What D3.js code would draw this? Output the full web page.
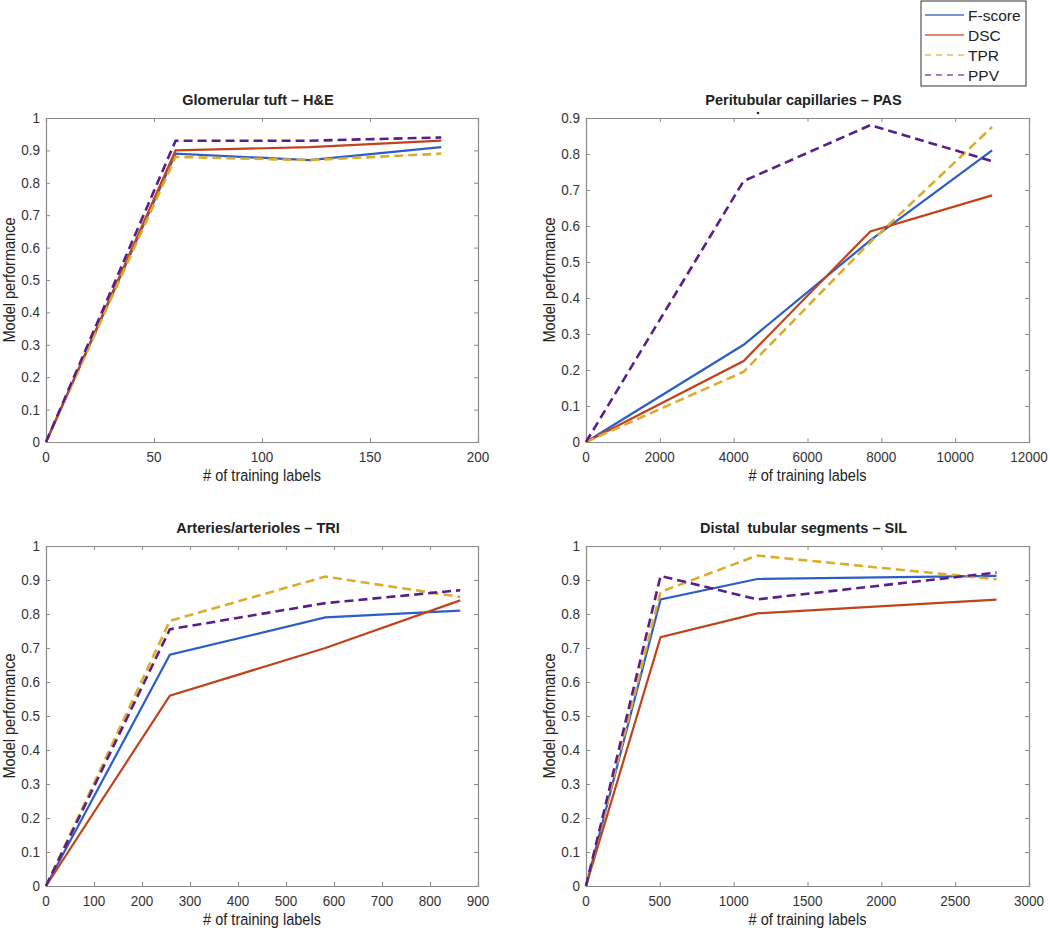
<!DOCTYPE html>
<html><head><meta charset="utf-8">
<script src="https://cdn.jsdelivr.net/npm/d3@7/dist/d3.min.js"></script>
<style>body{margin:0;background:#fff}svg{display:block}text{font-family:Arial,"Liberation Sans",sans-serif;fill:#222;white-space:pre}</style>
</head><body>
<script>
// ---------- data ----------
const seriesNames = ["F-score", "DSC", "TPR", "PPV"];
const panelTitles = ["Glomerular tuft \u2013 H&E", "Peritubular capillaries \u2013 PAS", "Arteries/arterioles \u2013 TRI", "Distal  tubular segments \u2013 SIL"];
const xLabel = "# of training labels";
const yLabel = "Model performance";

const glomX = [0, 60, 122, 183];
const glomF = [0, 0.89, 0.87, 0.91];
const glomDSC = [0, 0.90, 0.91, 0.93];
const glomTPR = [0, 0.88, 0.87, 0.89];
const glomPPV = [0, 0.93, 0.93, 0.94];
const glomXTicks = [0, 50, 100, 150, 200];
const glomYTicks = [0, 0.1, 0.2, 0.3, 0.4, 0.5, 0.6, 0.7, 0.8, 0.9, 1];

const capX = [0, 4270, 7700, 11000];
const capF = [0, 0.27, 0.56, 0.81];
const capDSC = [0, 0.225, 0.585, 0.685];
const capTPR = [0, 0.195, 0.555, 0.875];
const capPPV = [0, 0.725, 0.88, 0.78];
const capXTicks = [0, 2000, 4000, 6000, 8000, 10000, 12000];
const capYTicks = [0, 0.1, 0.2, 0.3, 0.4, 0.5, 0.6, 0.7, 0.8, 0.9];

const artX = [0, 258, 582, 863];
const artF = [0, 0.68, 0.79, 0.81];
const artDSC = [0, 0.56, 0.70, 0.84];
const artTPR = [0, 0.78, 0.91, 0.85];
const artPPV = [0, 0.755, 0.832, 0.87];
const artXTicks = [0, 100, 200, 300, 400, 500, 600, 700, 800, 900];
const artYTicks = [0, 0.1, 0.2, 0.3, 0.4, 0.5, 0.6, 0.7, 0.8, 0.9, 1];

const distX = [0, 505, 1160, 2780];
const distF = [0, 0.843, 0.903, 0.912];
const distDSC = [0, 0.732, 0.802, 0.842];
const distTPR = [0, 0.865, 0.972, 0.902];
const distPPV = [0, 0.912, 0.843, 0.922];
const distXTicks = [0, 500, 1000, 1500, 2000, 2500, 3000];
const distYTicks = [0, 0.1, 0.2, 0.3, 0.4, 0.5, 0.6, 0.7, 0.8, 0.9, 1];

// ---------- styles / layout ----------
const colors = ["#2b5fc6", "#c0431b", "#dcad2c", "#5a1e8a"];
const legendColors = ["#4a72c8", "#d0623c", "#e3bf5a", "#8a4fae"];
const dashed = [false, false, true, true];

const panels = [
  {x: glomX, ys: [glomF, glomDSC, glomTPR, glomPPV], xd: [0, 200], yd: [0, 1], xt: glomXTicks, yt: glomYTicks, box: {l: 46, r: 478, t: 118, b: 442}},
  {x: capX, ys: [capF, capDSC, capTPR, capPPV], xd: [0, 12000], yd: [0, 0.9], xt: capXTicks, yt: capYTicks, box: {l: 586, r: 1029, t: 118, b: 442}},
  {x: artX, ys: [artF, artDSC, artTPR, artPPV], xd: [0, 900], yd: [0, 1], xt: artXTicks, yt: artYTicks, box: {l: 46, r: 478, t: 546, b: 886}},
  {x: distX, ys: [distF, distDSC, distTPR, distPPV], xd: [0, 3000], yd: [0, 1], xt: distXTicks, yt: distYTicks, box: {l: 586, r: 1029, t: 546, b: 886}}
];

const svg = d3.select("body").append("svg").attr("width", 1050).attr("height", 930);

function txt(g, x, y, s, size, anchor, weight, rot, sx) {
  const t = g.append("text")
    .attr("transform", `translate(${x},${y})` + (rot ? ` rotate(${rot})` : "") + ` scale(${sx || 1},1)`)
    .attr("text-anchor", anchor).attr("font-size", size).text(s);
  if (weight) t.attr("font-weight", weight);
  return t;
}

const fmt = v => (v === 0 ? "0" : v === 1 ? "1" : String(+v.toFixed(1)));

panels.forEach((p, i) => {
  const b = p.box;
  const xs = d3.scaleLinear().domain(p.xd).range([b.l, b.r]);
  const ys = d3.scaleLinear().domain(p.yd).range([b.b, b.t]);
  const g = svg.append("g");

  // axes with inward ticks (bottom/left + mirrored top/right)
  const ax = g.append("g").attr("transform", `translate(0,${b.b})`)
    .call(d3.axisBottom(xs).tickValues(p.xt).tickSize(-4).tickFormat(""));
  const axT = g.append("g").attr("transform", `translate(0,${b.t})`)
    .call(d3.axisTop(xs).tickValues(p.xt).tickSize(-4).tickFormat(""));
  const ay = g.append("g").attr("transform", `translate(${b.l},0)`)
    .call(d3.axisLeft(ys).tickValues(p.yt).tickSize(-4).tickFormat(""));
  const ayR = g.append("g").attr("transform", `translate(${b.r},0)`)
    .call(d3.axisRight(ys).tickValues(p.yt).tickSize(-4).tickFormat(""));
  [ax, axT, ay, ayR].forEach(a => {
    a.selectAll("path").attr("stroke", "#8a8a8a").attr("stroke-width", 1.2);
    a.selectAll("line").attr("stroke", "#8a8a8a").attr("stroke-width", 1);
  });

  // tick labels
  p.xt.forEach(v => txt(g, xs(v), b.b + 20, String(v), 14.5, "middle", null, 0, 0.93).style("fill", "#333"));
  p.yt.forEach(v => txt(g, b.l - 6, ys(v) + 5, fmt(v), 14.5, "end", null, 0, 0.93).style("fill", "#333"));

  // lines
  const line = d3.line().x((d, k) => xs(p.x[k])).y(d => ys(d));
  p.ys.forEach((vals, s) => {
    const path = g.append("path").datum(vals).attr("d", line)
      .attr("fill", "none").attr("stroke", colors[s])
      .attr("stroke-width", dashed[s] ? 2.6 : 2.2)
      .attr("stroke-linejoin", "miter");
    if (dashed[s]) path.attr("stroke-dasharray", "9,5");
  });
  // titles and labels
  txt(g, (b.l + b.r) / 2 - 4, b.t - 13, panelTitles[i], 14.5, "middle", "bold");
  txt(g, (b.l + b.r) / 2, b.b + 39, xLabel, 16.5, "middle", null, 0, 0.88);
  txt(g, b.l - 31, (b.t + b.b) / 2, yLabel, 16.5, "middle", null, -90, 0.88);
});

// stray dot under the PAS title
svg.append("circle").attr("cx", 758).attr("cy", 113).attr("r", 1.3).attr("fill", "#222");

// legend
const lg = svg.append("g");
lg.append("rect").attr("x", 921).attr("y", 1).attr("width", 105).attr("height", 85)
  .attr("fill", "#fff").attr("stroke", "#333").attr("stroke-width", 1);
seriesNames.forEach((n, s) => {
  const y = 15 + s * 20;
  const l = lg.append("line").attr("x1", 925).attr("x2", 964).attr("y1", y).attr("y2", y)
    .attr("stroke", legendColors[s]).attr("stroke-width", 1.4);
  if (dashed[s]) l.attr("stroke-dasharray", "6,5");
  txt(lg, 968, y + 5.5, n, 15.5, "start");
});
</script>
</body></html>
